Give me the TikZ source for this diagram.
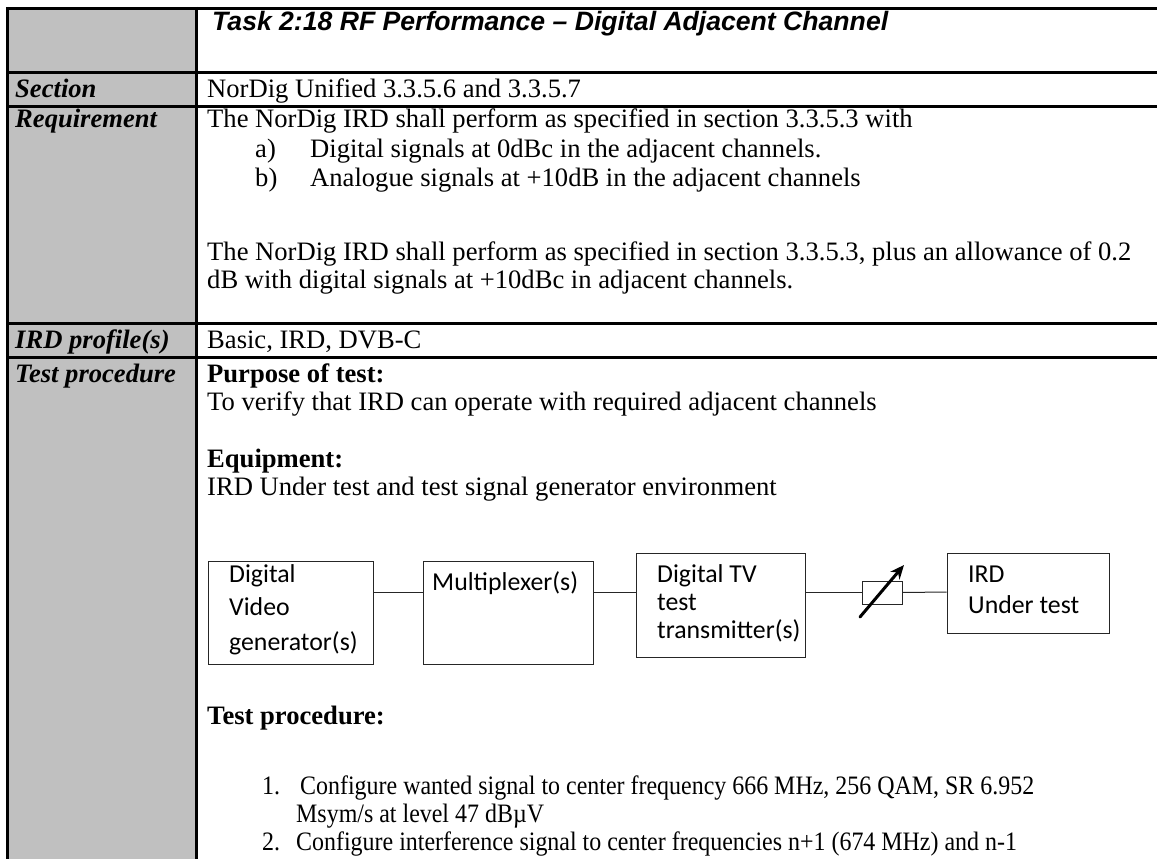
\documentclass[tikz,border=0pt]{standalone}
\usepackage{fontspec}
\setmainfont{Liberation Serif}
\newfontfamily\arialf{Liberation Sans}
\newfontfamily\calf{Carlito}
\newfontfamily\narrowf[FakeStretch=0.9]{Liberation Serif}
\usetikzlibrary{arrows.meta}
\definecolor{cellgray}{HTML}{C0C0C0}
\begin{document}
\begin{tikzpicture}[x=1pt,y=-1pt,
  tx/.style={anchor=base west,inner sep=0pt,font=\fontsize{26.6}{28}\selectfont},
  ntx/.style={anchor=base west,inner sep=0pt,font=\fontsize{26.6}{28}\narrowf},
  bx/.style={anchor=base west,inner sep=0pt,font=\fontsize{26.6}{28}\selectfont\bfseries},
  lbl/.style={anchor=base west,inner sep=0pt,font=\fontsize{26.6}{28}\selectfont\bfseries\itshape},
  dtx/.style={anchor=base west,inner sep=0pt,font=\fontsize{25.8}{28}\calf},
  rule/.style={line width=3pt},
  blk/.style={draw=black!85,line width=1pt,inner sep=0pt},
  wire/.style={draw=black!85,line width=1pt}]
\useasboundingbox (0,0) rectangle (1157,859);
% table
\fill[cellgray] (7.5,8.5) rectangle (196.5,859);
\draw[rule] (6,8.5) -- (1157,8.5);
\draw[rule] (6,72.5) -- (1157,72.5);
\draw[rule] (6,106.5) -- (1157,106.5);
\draw[rule] (6,323) -- (1157,323);
\draw[rule] (6,357) -- (1157,357);
\draw[rule] (7.5,7) -- (7.5,859);
\draw[rule] (196.5,7) -- (196.5,859);
% title
\node[anchor=base west,inner sep=0pt,font=\fontsize{26.6}{28}\arialf\bfseries\itshape] (title) at (212,31) {Task 2:18 RF Performance – Digital Adjacent Channel};
% labels
\node[lbl] (lsec) at (15,98) {Section};
\node[lbl] (lreq) at (15,128) {Requirement};
\node[lbl] (lprof) at (15,348) {IRD profile(s)};
\node[lbl] (lproc) at (15,382) {Test procedure};
% contents
\node[tx] (sec) at (207,98) {NorDig Unified 3.3.5.6 and 3.3.5.7};
\node[tx] (r1) at (207,128) {The NorDig IRD shall perform as specified in section 3.3.5.3 with};
\node[tx] (ra) at (255,157) {a)};
\node[tx] (rat) at (310,157) {Digital signals at 0dBc in the adjacent channels.};
\node[tx] (rb) at (255,186) {b)};
\node[tx] (rbt) at (310,186) {Analogue signals at +10dB in the adjacent channels};
\node[tx] (r2) at (207,260) {The NorDig IRD shall perform as specified in section 3.3.5.3, plus an allowance of 0.2};
\node[tx] (r3) at (207,288) {dB with digital signals at +10dBc in adjacent channels.};
\node[tx] (prof) at (207,348) {Basic, IRD, DVB-C};
\node[bx] (p1) at (207,382) {Purpose of test:};
\node[tx] (p2) at (207,410) {To verify that IRD can operate with required adjacent channels};
\node[bx] (e1) at (207,467) {Equipment:};
\node[tx] (e2) at (207,495) {IRD Under test and test signal generator environment};
\node[bx] (t1) at (207,724) {Test procedure:};
\node[ntx] (n1) at (262,794) {1.};
\node[ntx] (n1t) at (300,794) {Configure wanted signal to center frequency 666 MHz, 256 QAM, SR 6.952};
\node[ntx] (n1u) at (296,822) {Msym/s at level 47 dBµV};
\node[ntx] (n2) at (262,850) {2.};
\node[ntx] (n2t) at (296,850) {Configure interference signal to center frequencies n+1 (674 MHz) and n-1};
% diagram
\coordinate (cy) at (0,592);
\node[blk,minimum width=165pt,minimum height=103pt] (b1) at (290.5,612.5) {};
\node[blk,minimum width=170pt,minimum height=103pt] (b2) at (508,612.5) {};
\node[blk,minimum width=169pt,minimum height=104pt] (b3) at (720.5,605) {};
\node[blk,minimum width=40pt,minimum height=23pt] (att) at (882,592.5) {};
\node[blk,minimum width=162pt,minimum height=80pt] (b4) at (1028,593) {};
\node[dtx] at (229,582) {Digital};
\node[dtx] at (229,615) {Video};
\node[dtx] at (229,650) {generator(s)};
\node[dtx] at (432,590) {Multiplexer(s)};
\node[dtx] at (657,582) {Digital TV};
\node[dtx] at (657,610) {test};
\node[dtx] at (657,638) {transmitter(s)};
\node[dtx] at (968,582) {IRD};
\node[dtx] at (968,613) {Under test};
\draw[wire] (b1.east |- cy) -- (b2.west |- cy);
\draw[wire] (b2.east |- cy) -- (b3.west |- cy);
\draw[wire] (b3.east |- cy) -- (att.west |- cy);
\draw[wire] (att.east) -- (b4.west |- cy);
\coordinate (arrA) at (860,617);
\coordinate (arrB) at (904,565);
\draw[line width=3pt,line cap=round,-{Stealth[length=14pt,width=12pt]}] (arrA) -- (arrB);
\end{tikzpicture}
\end{document}
